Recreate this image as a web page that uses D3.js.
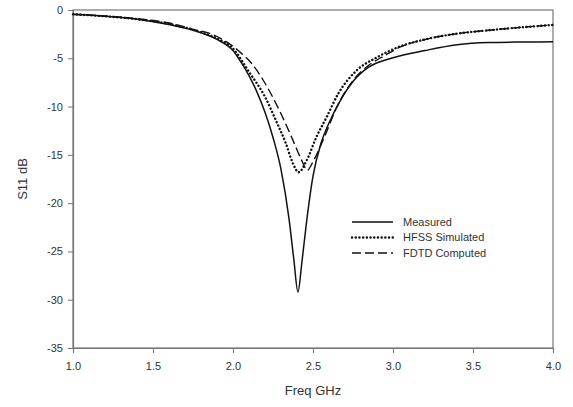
<!DOCTYPE html>
<html>
<head>
<meta charset="utf-8">
<script src="https://cdn.jsdelivr.net/npm/d3@7"></script>
<style>
  body { margin: 0; background: #fff; }
  text { font-family: "Liberation Sans", Arial, sans-serif; fill: #333; }
</style>
</head>
<body>
<div id="chart"></div>
<script>
// data
var measFreq = [1.0,1.2,1.4,1.6,1.8,1.9,2.0,2.05,2.1,2.15,2.2,2.25,2.3,2.35,2.38,2.406,2.43,2.46,2.5,2.55,2.6,2.67,2.75,2.85,3.0,3.2,3.4,3.6,3.8,4.0];
var measVals = [-0.45,-0.65,-0.95,-1.5,-2.35,-3.05,-4.2,-5.4,-6.8,-8.5,-10.6,-13.2,-16.5,-21.6,-25.8,-29.2,-26.2,-21.9,-17.2,-13.8,-11.7,-9.4,-7.4,-5.9,-4.95,-4.2,-3.6,-3.37,-3.32,-3.3];

var hfssFreq = [1.0,1.2,1.4,1.6,1.8,1.9,2.0,2.1,2.2,2.27,2.33,2.375,2.41,2.46,2.52,2.585,2.66,2.77,2.9,3.04,3.2,3.4,3.6,3.8,4.0];
var hfssVals = [-0.45,-0.65,-0.95,-1.45,-2.3,-2.95,-4.0,-6.4,-9.0,-11.5,-13.8,-15.9,-16.8,-15.6,-13.2,-11.1,-8.6,-6.3,-4.9,-3.8,-3.05,-2.45,-2.1,-1.8,-1.55];

var fdtdFreq = [1.0,1.2,1.4,1.6,1.75,1.85,1.96,2.04,2.12,2.19,2.29,2.375,2.43,2.465,2.5,2.575,2.65,2.75,2.85,2.95,3.05,3.2,3.4,3.6,3.8,4.0];
var fdtdVals = [-0.45,-0.62,-0.9,-1.35,-2.0,-2.4,-3.3,-4.3,-5.6,-7.3,-10.4,-13.5,-15.6,-16.6,-15.7,-13.0,-10.0,-7.3,-5.7,-4.7,-3.8,-3.05,-2.45,-2.1,-1.8,-1.55];

var xTicks = [1.0,1.5,2.0,2.5,3.0,3.5,4.0];
var yTicks = [0,-5,-10,-15,-20,-25,-30,-35];
var seriesNames = ["Measured", "HFSS Simulated", "FDTD Computed"];

var width = 573, height = 407;
var margin = {top: 10, right: 20, bottom: 59, left: 73};
var w = width - margin.left - margin.right,
    h = height - margin.top - margin.bottom;

var svg = d3.select("#chart").append("svg")
    .attr("width", width)
    .attr("height", height);

var g = svg.append("g")
    .attr("transform", "translate(" + margin.left + "," + margin.top + ")");

var x = d3.scaleLinear().domain([1, 4]).range([0, w]);
var y = d3.scaleLinear().domain([-35, 0]).range([h, 0]);

// frame
g.append("rect")
    .attr("width", w)
    .attr("height", h)
    .attr("fill", "none")
    .attr("stroke", "#777")
    .attr("stroke-width", 1.2);

// axes (plain hyphen for negatives, as in the original)
var xAxis = g.append("g")
    .attr("transform", "translate(0," + h + ")")
    .call(d3.axisBottom(x).tickValues(xTicks).tickFormat(d3.format(".1f")).tickSize(5).tickPadding(9));
var yAxis = g.append("g")
    .call(d3.axisLeft(y).tickValues(yTicks).tickFormat(function(d) { return String(d); }).tickSize(5).tickPadding(5));

[xAxis, yAxis].forEach(function(a) {
    a.select(".domain").attr("stroke", "#777").attr("stroke-width", 1.2);
    a.selectAll(".tick line").attr("stroke", "#777");
    a.selectAll(".tick text").style("font-size", "11px").attr("fill", "#333");
});

// axis titles
svg.append("text")
    .attr("x", margin.left + w / 2)
    .attr("y", 395)
    .attr("text-anchor", "middle")
    .style("font-size", "13px")
    .text("Freq GHz");

svg.append("text")
    .attr("transform", "translate(27," + (margin.top + h / 2) + ") rotate(-90)")
    .attr("text-anchor", "middle")
    .style("font-size", "13px")
    .text("S11 dB");

// curves
var line = d3.line()
    .x(function(d) { return x(d[0]); })
    .y(function(d) { return y(d[1]); })
    .curve(d3.curveMonotoneX);

var styles = [
    {dash: null, width: 1.5, cap: "butt"},
    {dash: "0.1,3.6", width: 2.4, cap: "round"},
    {dash: "9,4", width: 1.4, cap: "butt"}
];

var series = [
    d3.zip(measFreq, measVals),
    d3.zip(hfssFreq, hfssVals),
    d3.zip(fdtdFreq, fdtdVals)
];

series.forEach(function(s, i) {
    g.append("path")
        .datum(s)
        .attr("d", line)
        .attr("fill", "none")
        .attr("stroke", "#111")
        .attr("stroke-width", styles[i].width)
        .attr("stroke-linecap", styles[i].cap)
        .attr("stroke-dasharray", styles[i].dash);
});

// legend
var legend = svg.selectAll("g.legend")
    .data(seriesNames)
    .enter().append("g")
    .attr("class", "legend")
    .attr("transform", function(d, i) { return "translate(352," + (222 + i * 15.5) + ")"; });

legend.append("line")
    .attr("x1", 0)
    .attr("x2", 41)
    .attr("stroke", "#111")
    .attr("stroke-width", function(d, i) { return styles[i].width; })
    .attr("stroke-linecap", function(d, i) { return styles[i].cap; })
    .attr("stroke-dasharray", function(d, i) { return styles[i].dash; });

legend.append("text")
    .attr("x", 51)
    .attr("dy", "0.35em")
    .style("font-size", "11px")
    .text(function(d) { return d; });
</script>
</body>
</html>
